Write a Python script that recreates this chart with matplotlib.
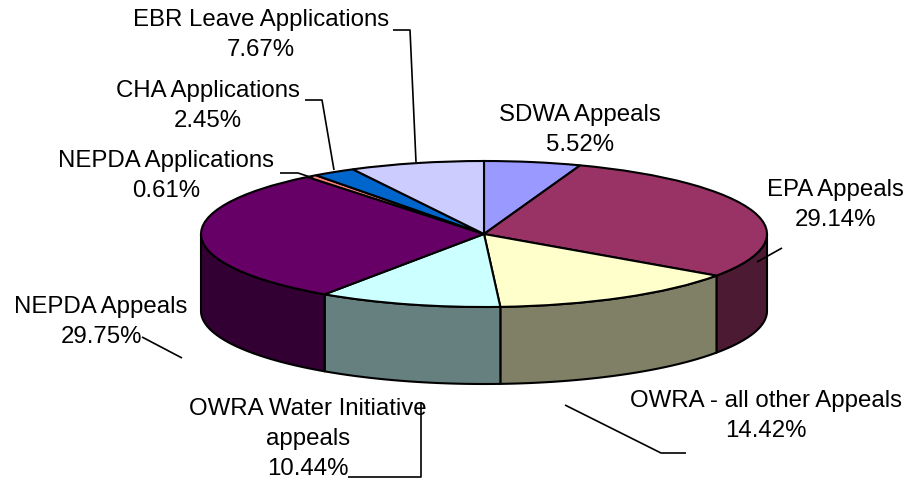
# Pie chart of appeals and applications, drawn as a tilted 3D pie

import numpy as np
import matplotlib
matplotlib.use('Agg')
import matplotlib.pyplot as plt
from matplotlib.patches import Polygon

plt.rcParams['font.family'] = ['Liberation Sans', 'DejaVu Sans']

names = ['SDWA Appeals', 'EPA Appeals', 'OWRA - all other Appeals',
         'OWRA Water Initiative\nappeals', 'NEPDA Appeals',
         'NEPDA Applications', 'CHA Applications', 'EBR Leave Applications']
shares = [5.52, 29.14, 14.42, 10.44, 29.75, 0.61, 2.45, 7.67]
top_colors = ['#9999FF', '#993366', '#FFFFCC', '#CCFFFF',
              '#660066', '#FF8080', '#0066CC', '#CCCCFF']
wall_colors = ['#4D4D80', '#4D1A33', '#808066', '#668080',
               '#330033', '#804040', '#003366', '#666680']

# label centres in pixels (y down)
label_xy = [(580, 130), (835, 205), (766, 416), (308, 439),
            (101, 322), (166, 176), (208, 106), (261, 35)]

leaders = [
    [(757, 262), (782, 248)],
    [(565, 405), (661, 453), (686, 453)],
    [(421, 402), (421, 477), (348, 477)],
    [(142, 337), (182, 358)],
    [(280, 173), (298, 173), (313, 178)],
    [(305, 100), (322, 100), (334, 170)],
    [(393, 30), (410, 30), (416, 162)],
]

W, H = 911, 483
cx, cy, rx, ry = 484, 234, 283, 73
depth = 77 / ry

fig = plt.figure(figsize=(W / 100, H / 100), dpi=100)

# axes where the unit circle lands on the ellipse of the pie top
ax = fig.add_axes([(cx - rx) / W, (H - cy - ry) / H, 2 * rx / W, 2 * ry / H])

# side walls, only the front half (90 to 270 deg clockwise from the top) shows
edges = np.concatenate([[0], np.cumsum(shares)]) * 3.6
for i in range(len(shares)):
    a = max(edges[i], 90)
    b = min(edges[i + 1], 270)
    if b <= a:
        continue
    t = np.radians(np.linspace(a, b, 60))
    x = np.sin(t)
    y = np.cos(t)
    pts = np.vstack([np.column_stack([x, y]),
                     np.column_stack([x[::-1], y[::-1] - depth])])
    ax.add_patch(Polygon(pts, closed=True, fc=wall_colors[i], ec='black',
                         lw=1.5, clip_on=False, joinstyle='round'))

ax.pie(shares, colors=top_colors, startangle=90, counterclock=False, radius=1,
       wedgeprops=dict(edgecolor='black', linewidth=1.5, clip_on=False))
ax.set_aspect('auto')
ax.set_xlim(-1, 1)
ax.set_ylim(-1, 1)
ax.axis('off')

# overlay in pixel coordinates for labels and leader lines
over = fig.add_axes([0, 0, 1, 1])
over.set_xlim(0, W)
over.set_ylim(H, 0)
over.axis('off')
over.patch.set_alpha(0)

for seg in leaders:
    xs, ys = zip(*seg)
    over.plot(xs, ys, color='black', lw=1.2, solid_capstyle='butt')

for name, v, (tx, ty) in zip(names, shares, label_xy):
    over.text(tx, ty, '{0}\n{1:.2f}%'.format(name, v), ha='center', va='center',
              fontsize=17.3, color='black', linespacing=1.46)

fig.savefig('out.png', dpi=100)
